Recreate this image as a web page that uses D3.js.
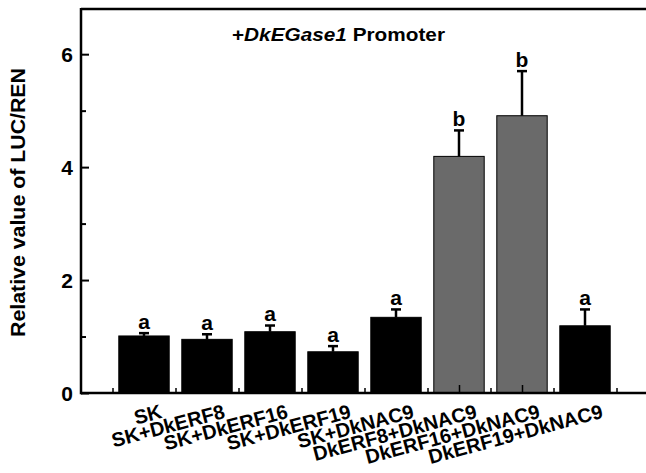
<!DOCTYPE html>
<html><head><meta charset="utf-8">
<script src="https://cdn.jsdelivr.net/npm/d3@7"></script>
<style>
html,body{margin:0;padding:0;background:#fff;}
text{font-family:"Liberation Sans",Arial,sans-serif;font-weight:bold;fill:#000;}
</style></head>
<body><svg id="c" width="646" height="473"></svg>
<script>
const categories = ["SK","SK+DkERF8","SK+DkERF16","SK+DkERF19","SK+DkNAC9","DkERF8+DkNAC9","DkERF16+DkNAC9","DkERF19+DkNAC9"];
const values = [1.01, 0.95, 1.085, 0.73, 1.34, 4.19, 4.91, 1.19];
const errors = [0.05, 0.09, 0.11, 0.10, 0.14, 0.46, 0.79, 0.29];
const letters = ["a","a","a","a","a","b","b","a"];
const highlighted = [false,false,false,false,false,true,true,false];
const yTicks = [0, 2, 4, 6];
const yMinorTicks = [1, 3, 5];

const svg = d3.select("#c");
const x = d3.scaleLinear().domain([0, 9]).range([81, 648]);
const y = d3.scaleLinear().domain([0, 6.8]).range([393, 9]);
const step = x(1) - x(0);
const bw = step * 0.8;

// bars
svg.selectAll("rect.bar").data(values).enter().append("rect")
  .attr("x", (d,i) => x(i+1) - bw/2)
  .attr("y", d => y(d))
  .attr("width", bw)
  .attr("height", d => y(0) - y(d))
  .attr("fill", (d,i) => highlighted[i] ? "#6a6a6a" : "#000")
  .attr("stroke", "#000").attr("stroke-width", 1);

// error bars (upper)
svg.selectAll("line.err").data(values).enter().append("line")
  .attr("x1", (d,i) => x(i+1)).attr("x2", (d,i) => x(i+1))
  .attr("y1", d => y(d)).attr("y2", (d,i) => y(d + errors[i]))
  .attr("stroke", "#000").attr("stroke-width", 2.5);
svg.selectAll("line.cap").data(values).enter().append("line")
  .attr("x1", (d,i) => x(i+1) - 5).attr("x2", (d,i) => x(i+1) + 5)
  .attr("y1", (d,i) => y(d + errors[i])).attr("y2", (d,i) => y(d + errors[i]))
  .attr("stroke", "#000").attr("stroke-width", 2.5);

// letters
svg.selectAll("text.sig").data(values).enter().append("text")
  .attr("x", (d,i) => x(i+1)).attr("y", (d,i) => y(d + errors[i]) - 4.5)
  .attr("text-anchor", "middle").attr("font-size", 21)
  .text((d,i) => letters[i]);

// y axis
const yAxis = d3.axisRight(y).tickValues(yTicks).tickSize(8).tickFormat("");
const gy = svg.append("g").attr("transform", `translate(${x(0)},0)`).call(yAxis);
gy.select(".domain").remove();
gy.selectAll(".tick line").attr("stroke", "#000").attr("stroke-width", 2);
const yAxisMinor = d3.axisRight(y).tickValues(yMinorTicks).tickSize(5).tickFormat("");
const gym = svg.append("g").attr("transform", `translate(${x(0)},0)`).call(yAxisMinor);
gym.select(".domain").remove();
gym.selectAll(".tick line").attr("stroke", "#000").attr("stroke-width", 2);
svg.selectAll("text.ytl").data(yTicks).enter().append("text")
  .attr("x", 73).attr("y", d => y(d) + 7.5)
  .attr("text-anchor", "end").attr("font-size", 21)
  .text(d => d);

// x axis ticks (inward)
const xMajor = d3.range(1, 9);
const xMinor = d3.range(0.5, 9, 1);
const gxm = svg.append("g").attr("transform", `translate(0,${y(0)})`)
  .call(d3.axisTop(x).tickValues(xMajor).tickSize(8).tickFormat(""));
gxm.select(".domain").remove();
gxm.selectAll(".tick line").attr("stroke", "#000").attr("stroke-width", 1.5);
const gxn = svg.append("g").attr("transform", `translate(0,${y(0)})`)
  .call(d3.axisTop(x).tickValues(xMinor).tickSize(5).tickFormat(""));
gxn.select(".domain").remove();
gxn.selectAll(".tick line").attr("stroke", "#000").attr("stroke-width", 1.5);

// frame lines
svg.append("line").attr("x1", x(0)).attr("x2", 648).attr("y1", y(0)).attr("y2", y(0))
  .attr("stroke", "#000").attr("stroke-width", 2.5);
svg.append("line").attr("x1", x(0)).attr("x2", 648).attr("y1", 9).attr("y2", 9)
  .attr("stroke", "#000").attr("stroke-width", 2.5);
svg.append("line").attr("x1", x(0)).attr("x2", x(0)).attr("y1", 8).attr("y2", y(0) + 1.2)
  .attr("stroke", "#000").attr("stroke-width", 2.5);

// x labels rotated
svg.selectAll("text.xl").data(categories).enter().append("text")
  .attr("text-anchor", "end").attr("font-size", 20)
  .attr("transform", (d,i) => `translate(${x(i+1) + 19},${y(0) + 24.5}) rotate(-15)`)
  .text(d => d);

// y label
svg.append("text").attr("text-anchor", "middle").attr("font-size", 19.5)
  .attr("transform", "translate(25,202.5) rotate(-90)")
  .attr("textLength", 269).attr("lengthAdjust", "spacingAndGlyphs")
  .text("Relative value of LUC/REN");

// title
const t = svg.append("text").attr("x", 232).attr("y", 41).attr("font-size", 18)
  .attr("textLength", 213).attr("lengthAdjust", "spacingAndGlyphs");
t.append("tspan").text("+");
t.append("tspan").attr("font-style", "italic").text("DkEGase1");
t.append("tspan").text(" Promoter");
</script></body></html>
